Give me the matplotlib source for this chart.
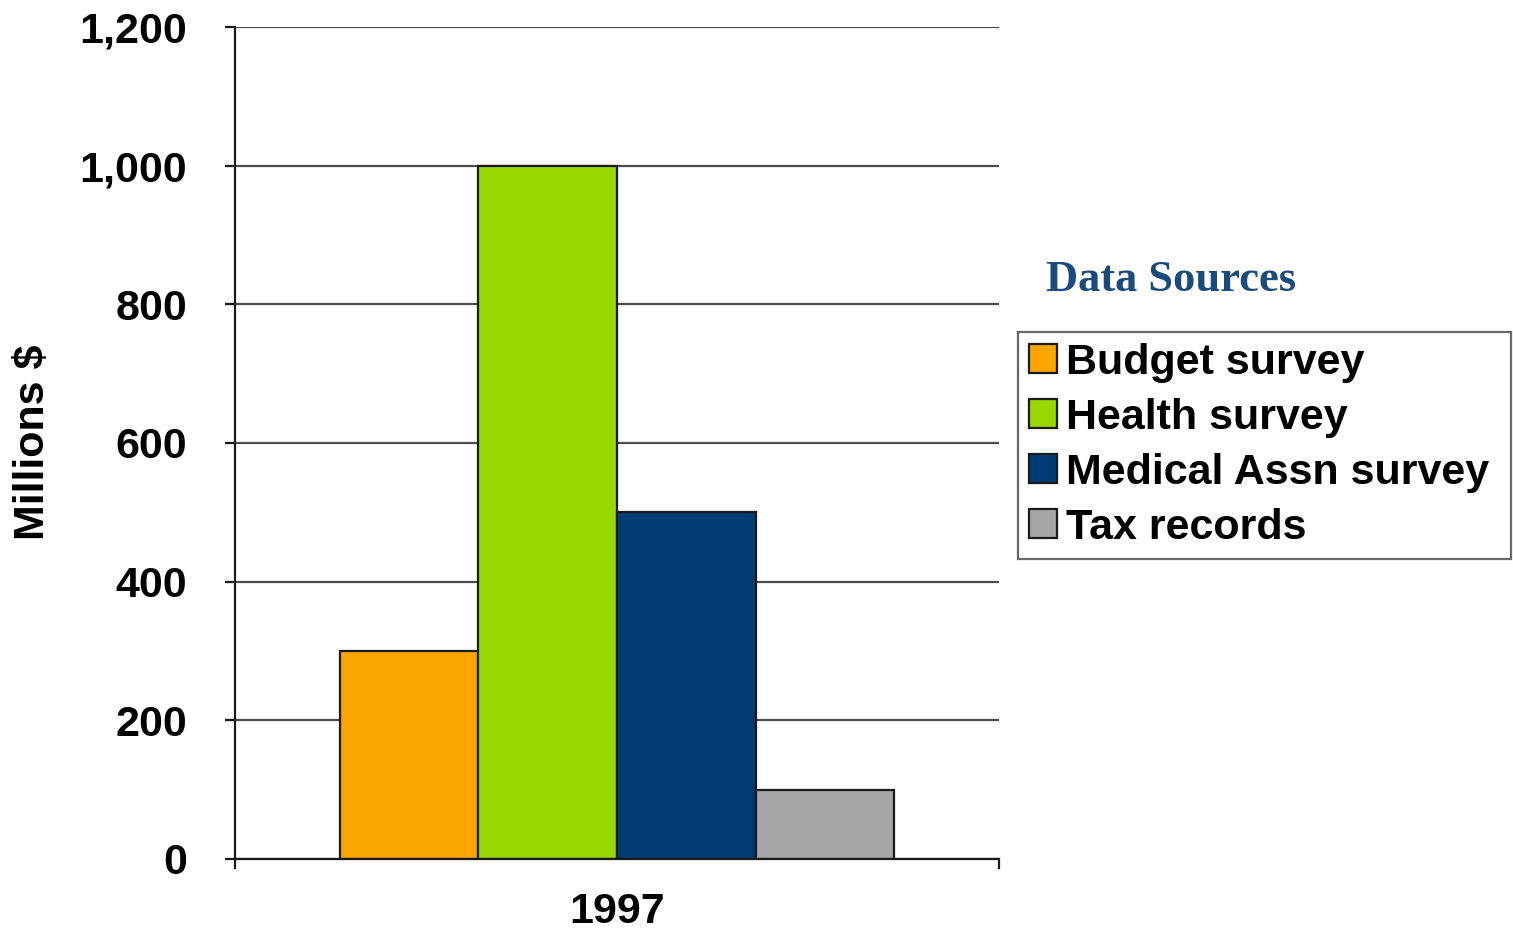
import matplotlib
matplotlib.use("Agg")
import matplotlib.pyplot as plt
from matplotlib.ticker import FuncFormatter, FixedLocator

# Spending estimates by data source, 1997 (millions of dollars)
years = ["1997"]
sources = ["Budget survey", "Health survey", "Medical Assn survey", "Tax records"]
values = [300, 1000, 500, 100]
colors = ["#FBA500", "#97D700", "#003C74", "#A6A6A6"]
yticks = [0, 200, 400, 600, 800, 1000, 1200]

plt.rcParams["font.family"] = ["Liberation Sans", "DejaVu Sans"]
plt.rcParams["font.weight"] = "bold"

fig = plt.figure(figsize=(15.13, 9.32), dpi=100)
ax = fig.add_axes([235 / 1513, 1 - 859 / 932, 764 / 1513, 832 / 932])

width = 0.1815
n = len(sources)
bars = []
for i, (src, val, col) in enumerate(zip(sources, values, colors)):
    b = ax.bar((i - (n - 1) / 2) * width, val, width=width, color=col,
               edgecolor="#1a1a1a", linewidth=1.6, label=src, zorder=3)
    bars.append(b)

ax.set_xlim(-0.5, 0.5)
ax.set_ylim(0, 1200)
ax.set_yticks(yticks)
ax.yaxis.set_major_formatter(FuncFormatter(lambda v, p: f"{int(v):,}"))
ax.yaxis.grid(True, color="#4d4d4d", linewidth=1.6, zorder=0)
ax.set_axisbelow(True)

ax.set_xticks([0])
ax.set_xticklabels(years)
ax.xaxis.set_minor_locator(FixedLocator([-0.5, 0.5]))
ax.tick_params(axis="x", which="major", length=0, pad=24, labelsize=31)
ax.tick_params(axis="x", which="minor", length=7.5, width=1.6, direction="out", color="#1a1a1a")
ax.tick_params(axis="y", length=7.5, width=1.6, direction="out", pad=27, labelsize=31, color="#1a1a1a")

for side in ("top", "right"):
    ax.spines[side].set_visible(False)
for side in ("left", "bottom"):
    ax.spines[side].set_linewidth(1.6)
    ax.spines[side].set_color("#1a1a1a")
    ax.spines[side].set_zorder(4)

fig.text(33 / 1513, 1 - 442 / 932, "Millions $", rotation=90, ha="center", va="center",
         fontsize=31, fontweight="bold")

fig.text(1171 / 1513, 1 - 280 / 932, "Data Sources", ha="center", va="center",
         fontsize=32, fontweight="bold", color="#1B4A7C", family=["Liberation Serif", "DejaVu Serif"])

leg = fig.legend(handles=[b[0] for b in bars], labels=sources, loc="upper left",
                 bbox_to_anchor=(1018 / 1513, 1 - 553 / 932, 493 / 1513, 221 / 932),
                 mode="expand", borderaxespad=0,
                 fontsize=31, handlelength=0.66, handleheight=0.66, handletextpad=0.2,
                 labelspacing=0.35, borderpad=0.25, frameon=True, fancybox=False)
leg.get_frame().set_edgecolor("#444444")
leg.get_frame().set_linewidth(1.6)
for h in leg.legend_handles:
    h.set_linewidth(1.6)

fig.savefig("out.png", dpi=100, facecolor="white")
